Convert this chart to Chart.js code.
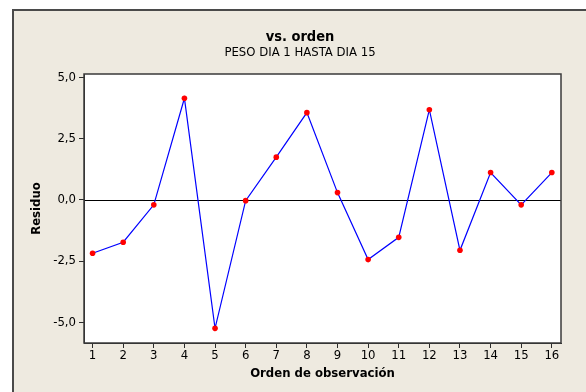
<!DOCTYPE html>
<html>
<head>
<meta charset="utf-8">
<script src="https://cdn.jsdelivr.net/npm/chart.js@4/dist/chart.umd.min.js"></script>
<style>
  html, body { margin: 0; padding: 0; background: #ffffff; }
  #wrap { width: 586px; height: 392px; position: relative; }
</style>
</head>
<body>
<div id="wrap"><canvas id="c" width="586" height="392"></canvas></div>
<script>
// Residuals in observation order
const observationOrder = [1, 2, 3, 4, 5, 6, 7, 8, 9, 10, 11, 12, 13, 14, 15, 16];
const residuals = [-2.18, -1.73, -0.20, 4.16, -5.25, -0.03, 1.75, 3.57, 0.30, -2.44, -1.53, 3.69, -2.06, 1.12, -0.20, 1.12];
const yTickValues = [-5, -2.5, 0, 2.5, 5];
const xTickValues = [1, 2, 3, 4, 5, 6, 7, 8, 9, 10, 11, 12, 13, 14, 15, 16];

const titleText = 'vs. orden';
const subtitleText = 'PESO DIA 1 HASTA DIA 15';
const xTitle = 'Orden de observación';
const yTitle = 'Residuo';

const FONT = 'Tahoma, "DejaVu Sans Condensed", "Liberation Sans", sans-serif';
const FRAME_BG = '#EEEAE0';
const INK = '#2b2b2b';

const points = observationOrder.map((x, i) => ({ x: x, y: residuals[i] }));
const commaFmt = v => Number(v).toFixed(1).replace('.', ',');

// Panel background, plot box, reference line and headings
const decor = {
  id: 'decor',
  beforeDraw(chart) {
    const ctx = chart.ctx;
    const a = chart.chartArea;
    ctx.save();
    ctx.fillStyle = '#ffffff';
    ctx.fillRect(0, 0, chart.width, chart.height);
    ctx.fillStyle = FRAME_BG;
    ctx.fillRect(12, 9, chart.width - 12, chart.height - 9);
    ctx.strokeStyle = '#4a4a4a';
    ctx.lineWidth = 2;
    ctx.beginPath();
    ctx.moveTo(13, chart.height);
    ctx.lineTo(13, 10);
    ctx.lineTo(chart.width, 10);
    ctx.stroke();
    ctx.fillStyle = '#ffffff';
    ctx.fillRect(a.left, a.top, a.right - a.left, a.bottom - a.top);
    // headings
    ctx.fillStyle = '#000000';
    ctx.textAlign = 'center';
    ctx.textBaseline = 'middle';
    ctx.font = 'bold 14.5px ' + FONT;
    ctx.fillText(titleText, 300, 37);
    ctx.font = '13px ' + FONT;
    ctx.fillText(subtitleText, 300, 53);
    ctx.restore();
  },
  beforeDatasetsDraw(chart) {
    const ctx = chart.ctx;
    const a = chart.chartArea;
    const y0 = Math.round(chart.scales.y.getPixelForValue(0)) + 0.5;
    ctx.save();
    ctx.strokeStyle = '#000000';
    ctx.lineWidth = 1;
    ctx.beginPath();
    ctx.moveTo(a.left, y0);
    ctx.lineTo(a.right, y0);
    ctx.stroke();
    ctx.restore();
  },
  afterDatasetsDraw(chart) {
    const ctx = chart.ctx;
    const a = chart.chartArea;
    ctx.save();
    ctx.strokeStyle = '#3a3a3a';
    ctx.lineWidth = 1.5;
    ctx.strokeRect(a.left, a.top, a.right - a.left, a.bottom - a.top);
    ctx.restore();
  }
};

new Chart(document.getElementById('c'), {
  type: 'line',
  data: {
    datasets: [{
      data: points,
      borderColor: '#0000FF',
      borderWidth: 1.2,
      pointBackgroundColor: '#FF0000',
      pointBorderColor: '#FF0000',
      pointBorderWidth: 0,
      pointRadius: 2.8,
      tension: 0,
      fill: false
    }]
  },
  options: {
    responsive: false,
    animation: false,
    layout: { padding: { top: 74, right: 25, bottom: 0, left: 0 } },
    plugins: { legend: { display: false }, tooltip: { enabled: false }, title: { display: false } },
    scales: {
      x: {
        type: 'linear',
        min: 0.72,
        max: 16.3,
        afterBuildTicks: s => { s.ticks = xTickValues.map(v => ({ value: v })); },
        afterFit: s => { s.height = 49; },
        grid: { drawOnChartArea: false, drawTicks: true, tickLength: 5, color: INK },
        border: { display: true, color: INK, width: 1 },
        ticks: { color: '#000000', font: { family: FONT, size: 13 }, padding: 0, maxRotation: 0, autoSkip: false },
        title: { display: true, text: xTitle, color: '#000000', font: { family: FONT, size: 13, weight: 'bold' }, padding: { top: 0, bottom: 11 } }
      },
      y: {
        type: 'linear',
        min: -5.85,
        max: 5.15,
        afterBuildTicks: s => { s.ticks = yTickValues.map(v => ({ value: v })); },
        afterFit: s => { s.width = 84; },
        grid: { drawOnChartArea: false, drawTicks: true, tickLength: 5, color: INK },
        border: { display: true, color: INK, width: 1 },
        ticks: { color: '#000000', font: { family: FONT, size: 13 }, padding: 3, callback: v => commaFmt(v) },
        title: { display: true, text: yTitle, color: '#000000', font: { family: FONT, size: 13, weight: 'bold' }, padding: { top: 29, bottom: 0 } }
      }
    }
  },
  plugins: [decor]
});
</script>
</body>
</html>
